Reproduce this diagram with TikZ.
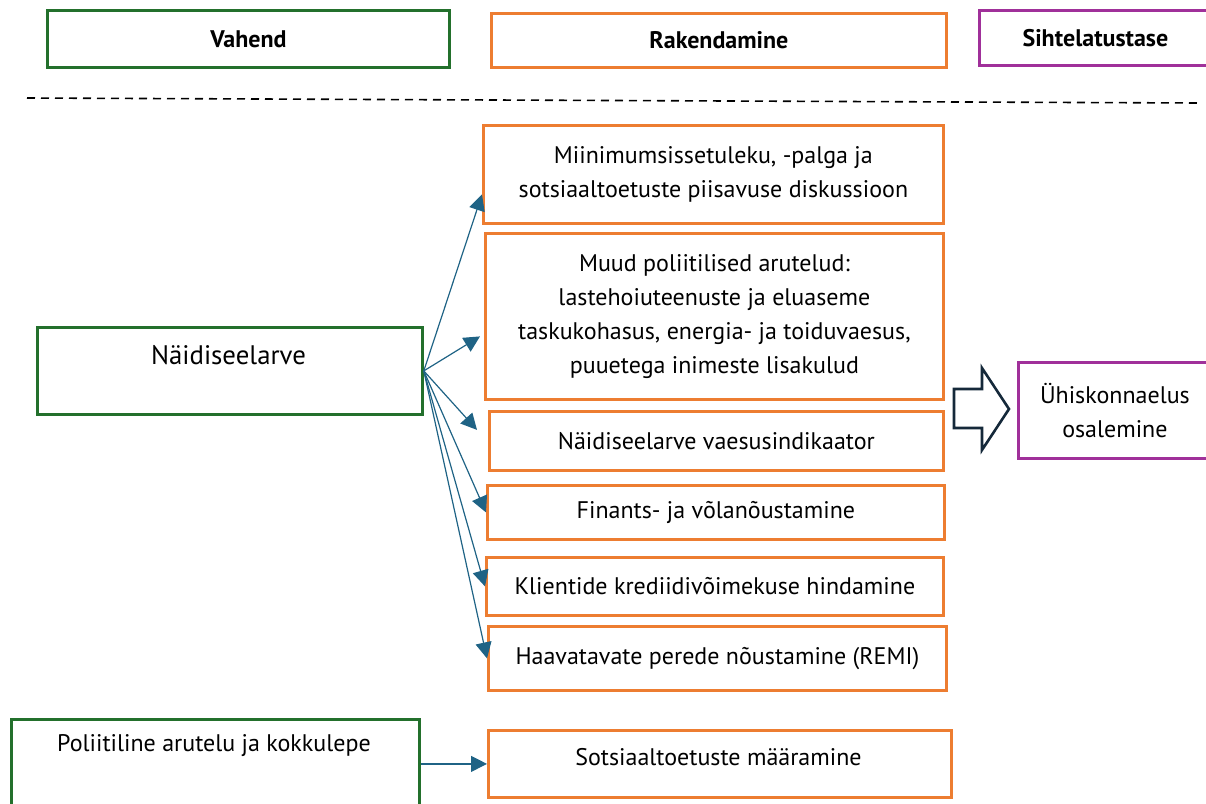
\documentclass[tikz,border=0pt]{standalone}
\usepackage{fontspec}
\setmainfont{PT Sans}
\usepackage{xcolor}
\usepackage{tikz}
\usetikzlibrary{arrows.meta}

\definecolor{vgreen}{HTML}{23702C}
\definecolor{rorange}{HTML}{ED7D31}
\definecolor{spurple}{HTML}{A0309A}
\definecolor{linkblue}{HTML}{1F6385}
\definecolor{navy}{HTML}{15293A}

\tikzset{
	box/.style={draw, line width=1.4pt, inner sep=0pt, anchor=north west, align=center, font=\fontsize{12}{17}\selectfont},
	vbox/.style={box, draw=vgreen},
	rbox/.style={box, draw=rorange},
	sbox/.style={box, draw=spurple},
	head/.style={font=\fontsize{12}{14}\selectfont\bfseries},
	link/.style={draw=linkblue, line width=0.6pt, -{Triangle[length=8pt,width=8pt]}}
}

\begin{document}
\begin{tikzpicture}[x=0.5pt,y=-0.5pt]
	\useasboundingbox (0,0) rectangle (1206,804);

	% header row
	\node[vbox, head, minimum width=201pt, minimum height=28.5pt] (vahend) at (46,9) {Vahend};
	\node[rbox, head, minimum width=227.5pt, minimum height=27pt] (rakend) at (490,12) {Rakendamine};
	\node[sbox, head, minimum width=116pt, minimum height=27.5pt] (siht) at (978,9) {Sihtelatustase};
	\coordinate (dl) at (27,98);
	\coordinate (dr) at (1197,103);
	\draw[line width=0.8pt, dash pattern=on 4pt off 3pt] (dl) -- (dr);

	% tools
	\node[vbox, minimum width=192.5pt, minimum height=43.5pt] (naid) at (36,326) {};
	\node[font=\fontsize{13.4}{16}\selectfont] (naidtxt) at (228.5,355) {Näidiseelarve};
	\node[vbox, minimum width=204pt, minimum height=50pt] (pol) at (10,718) {};
	\node[font=\fontsize{12}{14}\selectfont] (poltxt) at (214,746) {Poliitiline arutelu ja kokkulepe};

	% implementation
	\node[rbox, minimum width=230pt, minimum height=49pt] (m1) at (482,124) {Miinimumsissetuleku, -palga ja\\sotsiaaltoetuste piisavuse diskussioon};
	\node[rbox, minimum width=229pt, minimum height=83pt] (m2) at (484,232) {Muud poliitilised arutelud:\\lastehoiuteenuste ja eluaseme\\taskukohasus, energia- ja toiduvaesus,\\puuetega inimeste lisakulud};
	\node[rbox, minimum width=227pt, minimum height=29.5pt] (m3) at (488,410) {Näidiseelarve vaesusindikaator};
	\node[rbox, minimum width=228.5pt, minimum height=27pt] (m4) at (486,484) {Finants- ja võlanõustamine};
	\node[rbox, minimum width=228.5pt, minimum height=29pt] (m5) at (485,556) {Klientide krediidivõimekuse hindamine};
	\node[rbox, minimum width=229pt, minimum height=32pt] (m6) at (487,625) {Haavatavate perede nõustamine (REMI)};
	\node[rbox, minimum width=231.5pt, minimum height=33.5pt] (m7) at (487,729) {};
	\node[font=\fontsize{12}{14}\selectfont] (m7txt) at (718.5,757) {Sotsiaaltoetuste määramine};

	% target
	\node[sbox, minimum width=96.5pt, minimum height=48pt] (uhis) at (1017,361) {Ühiskonnaelus\\osalemine};
	\draw[navy, line width=1.3pt, line join=miter] (954,389) -- (982,389) -- (982,368) -- (1009,409) -- (982,450) -- (982,428) -- (954,428) -- cycle;

	% arrows
	\draw[link] (naid.east) -- ([yshift=-10pt]m1.west);
	\draw[link] (naid.east) -- ([xshift=-2pt,yshift=-10pt]m2.west);
	\draw[link] (naid.east) -- ([xshift=-5.5pt,yshift=5.5pt]m3.west);
	\draw[link] (naid.east) -- (m4.west);
	\draw[link] (naid.east) -- (m5.west);
	\draw[link] (naid.east) -- (m6.west);
	\draw[link] (pol.east |- m7.west) -- (m7.west);
\end{tikzpicture}
\end{document}
